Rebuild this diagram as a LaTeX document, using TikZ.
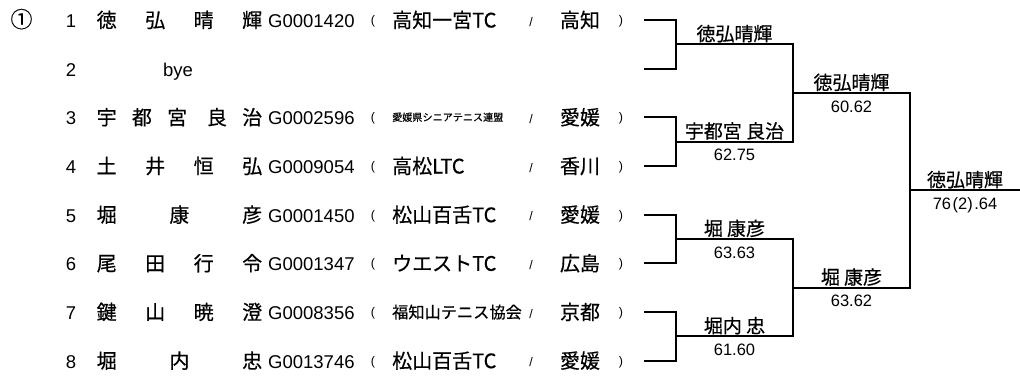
\documentclass[tikz,border=0pt]{standalone}
\usepackage{fontspec}
\setmainfont{Liberation Sans}
\newfontfamily\jp{Noto Sans CJK JP}[FakeBold=0.5]
\begin{document}
\begin{tikzpicture}[x=1pt,y=-1pt,every node/.style={inner sep=0pt},
  lat/.style={anchor=base,font=\fontsize{18.5}{20}\selectfont},
  jpn/.style={anchor=base,font=\fontsize{20}{22}\jp},
  brk/.style={anchor=base,yshift=3pt,font=\fontsize{12.5}{14}\selectfont},
  sls/.style={anchor=base,yshift=1.5pt,font=\fontsize{12.5}{14}\selectfont},
  wire/.style={line width=2pt,line cap=rect},
  lab/.style={anchor=base,yshift=3.5pt,font=\fontsize{19}{21}\jp},
  sc/.style={anchor=base,yshift=-19pt,font=\fontsize{16.5}{18}\selectfont}]
\useasboundingbox (0,0) rectangle (1020,376);
\node[jpn,font=\fontsize{22}{24}\jp] (pool) at (21.5,27.5) {①};
% entry list
\node[lat] (no1) at (71,27.5) {1};
\node[jpn,anchor=base west] (nm1) at (96.5,27.5) {\makebox[165.5pt][s]{徳\hfill 弘\hfill 晴\hfill 輝}};
\node[lat,anchor=base west] (id1) at (268,27.5) {G0001420};
\node[brk] (lp1) at (373,27.5) {(};
\node[jpn,anchor=base west] (cl1) at (392,27.5) {高知一宮TC};
\node[sls] (sl1) at (531,27.5) {/};
\node[jpn] (pf1) at (580,27.5) {高知};
\node[brk] (rp1) at (621,27.5) {)};
\node[lat] (no2) at (71,76.2) {2};
\node[lat] (nm2) at (178,76.2) {bye};
\node[lat] (no3) at (71,124.8) {3};
\node[jpn,anchor=base west] (nm3) at (96.5,124.8) {\makebox[165.5pt][s]{宇\hfill 都\hfill 宮\hskip 0pt plus 1.3fill 良\hfill 治}};
\node[lat,anchor=base west] (id3) at (268,124.8) {G0002596};
\node[brk] (lp3) at (373,124.8) {(};
\node[jpn,anchor=base west,yshift=3.8pt,font=\fontsize{10.1}{12}\jp] (cl3) at (392,124.8) {愛媛県シニアテニス連盟};
\node[sls] (sl3) at (531,124.8) {/};
\node[jpn] (pf3) at (580,124.8) {愛媛};
\node[brk] (rp3) at (621,124.8) {)};
\node[lat] (no4) at (71,173.5) {4};
\node[jpn,anchor=base west] (nm4) at (96.5,173.5) {\makebox[165.5pt][s]{土\hfill 井\hfill 恒\hfill 弘}};
\node[lat,anchor=base west] (id4) at (268,173.5) {G0009054};
\node[brk] (lp4) at (373,173.5) {(};
\node[jpn,anchor=base west] (cl4) at (392,173.5) {高松LTC};
\node[sls] (sl4) at (531,173.5) {/};
\node[jpn] (pf4) at (580,173.5) {香川};
\node[brk] (rp4) at (621,173.5) {)};
\node[lat] (no5) at (71,222.2) {5};
\node[jpn,anchor=base west] (nm5) at (96.5,222.2) {\makebox[165.5pt][s]{堀\hfill 康\hfill 彦}};
\node[lat,anchor=base west] (id5) at (268,222.2) {G0001450};
\node[brk] (lp5) at (373,222.2) {(};
\node[jpn,anchor=base west] (cl5) at (392,222.2) {松山百舌TC};
\node[sls] (sl5) at (531,222.2) {/};
\node[jpn] (pf5) at (580,222.2) {愛媛};
\node[brk] (rp5) at (621,222.2) {)};
\node[lat] (no6) at (71,270.8) {6};
\node[jpn,anchor=base west] (nm6) at (96.5,270.8) {\makebox[165.5pt][s]{尾\hfill 田\hfill 行\hfill 令}};
\node[lat,anchor=base west] (id6) at (268,270.8) {G0001347};
\node[brk] (lp6) at (373,270.8) {(};
\node[jpn,anchor=base west] (cl6) at (392,270.8) {ウエストTC};
\node[sls] (sl6) at (531,270.8) {/};
\node[jpn] (pf6) at (580,270.8) {広島};
\node[brk] (rp6) at (621,270.8) {)};
\node[lat] (no7) at (71,319.5) {7};
\node[jpn,anchor=base west] (nm7) at (96.5,319.5) {\makebox[165.5pt][s]{鍵\hfill 山\hfill 暁\hfill 澄}};
\node[lat,anchor=base west] (id7) at (268,319.5) {G0008356};
\node[brk] (lp7) at (373,319.5) {(};
\node[jpn,anchor=base west,yshift=1.3pt,font=\fontsize{16.2}{18}\jp] (cl7) at (392,319.5) {福知山テニス協会};
\node[sls] (sl7) at (531,319.5) {/};
\node[jpn] (pf7) at (580,319.5) {京都};
\node[brk] (rp7) at (621,319.5) {)};
\node[lat] (no8) at (71,368.2) {8};
\node[jpn,anchor=base west] (nm8) at (96.5,368.2) {\makebox[165.5pt][s]{堀\hfill 内\hfill 忠}};
\node[lat,anchor=base west] (id8) at (268,368.2) {G0013746};
\node[brk] (lp8) at (373,368.2) {(};
\node[jpn,anchor=base west] (cl8) at (392,368.2) {松山百舌TC};
\node[sls] (sl8) at (531,368.2) {/};
\node[jpn] (pf8) at (580,368.2) {愛媛};
\node[brk] (rp8) at (621,368.2) {)};
% bracket
\coordinate (e1) at (645,20);
\coordinate (e2) at (645,68.7);
\coordinate (e3) at (645,117.3);
\coordinate (e4) at (645,166);
\coordinate (e5) at (645,214.7);
\coordinate (e6) at (645,263.3);
\coordinate (e7) at (645,312);
\coordinate (e8) at (645,360.7);
\coordinate (a1) at (676,44.3);
\coordinate (a2) at (676,141.7);
\coordinate (a3) at (676,239);
\coordinate (a4) at (676,336.3);
\coordinate (b1) at (793,44.3);
\coordinate (b2) at (793,141.7);
\coordinate (b3) at (793,239);
\coordinate (b4) at (793,336.3);
\coordinate (c1) at (793,93);
\coordinate (c2) at (793,287.7);
\coordinate (d1) at (910,93);
\coordinate (d2) at (910,287.7);
\coordinate (f) at (910,190.3);
\coordinate (g) at (1020,190.3);
\draw[wire] (e1) -| (a1) |- (e2);
\draw[wire] (e3) -| (a2) |- (e4);
\draw[wire] (e5) -| (a3) |- (e6);
\draw[wire] (e7) -| (a4) |- (e8);
\draw[wire] (a1) -- node[lab] (w1) {徳弘晴輝} (b1);
\draw[wire] (a2) -- node[lab] (w2) {宇都宮 良治} node[sc] (s2) {62.75} (b2);
\draw[wire] (a3) -- node[lab] (w3) {堀 康彦} node[sc] (s3) {63.63} (b3);
\draw[wire] (a4) -- node[lab] (w4) {堀内 忠} node[sc] (s4) {61.60} (b4);
\draw[wire] (b1) -- (b2);
\draw[wire] (b3) -- (b4);
\draw[wire] (c1) -- node[lab] (w5) {徳弘晴輝} node[sc] (s5) {60.62} (d1);
\draw[wire] (c2) -- node[lab] (w6) {堀 康彦} node[sc] (s6) {63.62} (d2);
\draw[wire] (d1) -- (d2);
\draw[wire] (f) -- node[lab] (w7) {徳弘晴輝} node[sc] (s7) {76\kern1.5pt(2)\kern1.5pt.64} (g);
\end{tikzpicture}
\end{document}
